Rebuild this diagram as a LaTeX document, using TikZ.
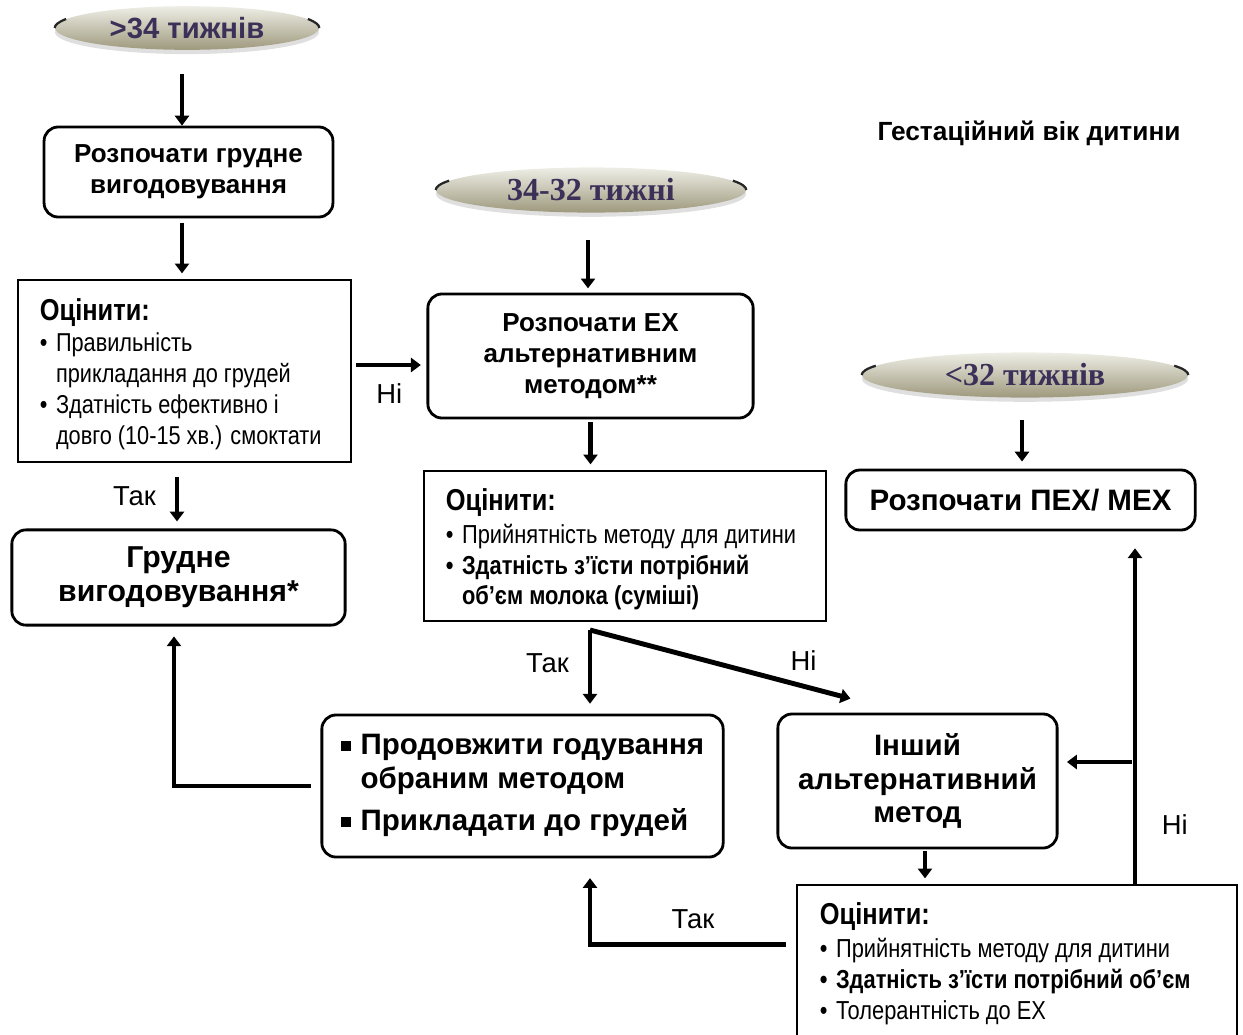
\documentclass[tikz,border=0pt]{standalone}
\usepackage{fontspec}
\setmainfont{Liberation Sans}
\newfontfamily\narrowfont[FakeStretch=0.84]{Liberation Sans}
\newfontfamily\agefont{Liberation Serif}
\usetikzlibrary{shapes.geometric, arrows.meta, positioning, calc, shadows}

\definecolor{agetop}{RGB}{238,238,230}
\definecolor{agemid}{RGB}{196,193,172}
\definecolor{agebot}{RGB}{158,153,125}
\definecolor{agetext}{RGB}{58,48,88}

\begin{document}
\begin{tikzpicture}[x=0.025cm, y=-0.025cm,
    age/.style={ellipse, shading=axis, top color=agetop, middle color=agemid, bottom color=agebot, text=agetext,
        minimum height=1.1cm, drop shadow={opacity=0.25, shadow xshift=0pt, shadow yshift=-3pt}},
    agetip/.style={draw=black!85, line width=1.6pt},
    rbox/.style={draw, rounded corners=10pt, line width=2pt, align=center},
    ebox/.style={draw, line width=1.4pt, align=left, anchor=north west, inner sep=0pt},
    head/.style={font=\fontsize{18.5}{22}\selectfont\bfseries},
    big/.style={font=\fontsize{21}{24}\selectfont\bfseries},
    lbl/.style={font=\fontsize{19.5}{20}\selectfont},
    arr/.style={-{Triangle[width=10pt,length=7pt]}, line width=3.5pt}]

    \clip (0,0) rectangle (1243,1034);

    % Age groups
    \node[age, minimum width=6.6cm, minimum height=1cm, font=\fontsize{20.8}{22}\selectfont\bfseries] (ageA) at (187,28) {>34 тижнів};
    \node[age, minimum width=7.75cm, font=\agefont\fontsize{22.8}{24}\selectfont\bfseries] (ageB) at (591,190) {34-32 тижні};
    \node[age, minimum width=8.15cm, font=\agefont\fontsize{22.8}{24}\selectfont\bfseries] (ageC) at (1025,375) {<32 тижнів};
    \foreach \agenode in {ageA, ageB, ageC} {
        \draw[agetip] let \p1 = ($(\agenode.east)-(\agenode.center)$), \p2 = ($(\agenode.north)-(\agenode.center)$) in
            (\agenode.west) arc[start angle=180, delta angle=-24, x radius=\x1, y radius=\y2]
            (\agenode.east) arc[start angle=0, delta angle=24, x radius=\x1, y radius=\y2];
    }
    \node[font=\fontsize{18.7}{20}\selectfont\bfseries] (title) at (1029,133) {Гестаційний вік дитини};

    % Left column
    \node[rbox, head, minimum width=7.22cm, minimum height=2.25cm] (start) at (188.5,172) {Розпочати грудне\\вигодовування};
    \draw[arr, shorten <=17pt] (ageA.south -| 182,0) -- (start.north -| 182,0);

    \node[ebox, minimum width=8.33cm, minimum height=4.55cm] (evalA) at (17,279) {};
    \node[anchor=north west, align=left, font=\narrowfont\fontsize{18.4}{22}\selectfont] (evalAtext) at (35,294) {%
        \begin{tabular}{@{}l@{\hspace{6pt}}l@{}}
        \multicolumn{2}{@{}l}{\fontsize{21.5}{22}\selectfont\bfseries Оцінити:}\\
        • & Правильність\\
          & прикладання до грудей\\
        • & Здатність ефективно і\\
          & довго (10-15 хв.) смоктати
        \end{tabular}};
    \draw[arr, shorten <=3pt, shorten >=4pt] (start.south -| 182,0) -- (evalA.north -| 182,0);

    \node[rbox, font=\fontsize{21.5}{24}\selectfont\bfseries, minimum width=8.33cm, minimum height=2.38cm] (breast) at (178.5,577.5) {Грудне\\вигодовування*};
    \draw[arr, shorten <=10pt, shorten >=5pt] (evalA.south -| 177,0) -- (breast.north -| 177,0) node[lbl, midway, left=10pt] {Так};

    % Middle column
    \node[rbox, head, minimum width=8.13cm, minimum height=3.1cm] (alt) at (590.5,356) {Розпочати ЕХ\\альтернативним\\методом**};
    \draw[arr, shorten <=19pt, shorten >=3pt] (ageB.south -| 588,0) -- (alt.north -| 588,0);
    \draw[arr, shorten <=3pt, shorten >=4pt] ([yshift=-6.4pt]evalA.east |- alt.west) -- ([yshift=-6.4pt]alt.west) node[lbl, midway, below=8pt] {Ні};

    \node[ebox, minimum width=10.05cm, minimum height=3.75cm] (evalB) at (423,470) {};
    \node[anchor=north west, align=left, font=\narrowfont\fontsize{18.5}{21.5}\selectfont] (evalBtext) at (441,484) {%
        \begin{tabular}{@{}l@{\hspace{6pt}}l@{}}
        \multicolumn{2}{@{}l}{\fontsize{21.5}{22}\selectfont\bfseries Оцінити:}\\[2pt]
        • & Прийнятність методу для дитини\\
        \bfseries • & \bfseries Здатність з’їсти потрібний\\
          & \bfseries об’єм молока (суміші)
        \end{tabular}};
    \draw[arr, shorten <=2pt, shorten >=4pt] (alt.south) -- (evalB.north -| alt.south);

    \coordinate (split) at (590,630);
    \node[rbox, big, align=left, minimum width=10.03cm, minimum height=3.55cm] (cont) at (522.5,786) {%
        \begin{tabular}{@{}l@{\hspace{7pt}}l@{}}
        \raisebox{3pt}{\rule{7pt}{7pt}} & Продовжити годування\\
          & обраним методом\\[6pt]
        \raisebox{3pt}{\rule{7pt}{7pt}} & Прикладати до грудей
        \end{tabular}};
    \draw[arr, shorten >=7pt] (split) -- (split |- cont.north) node[lbl, pos=0.4, left=10pt] {Так};
    \draw[arr, shorten <=7pt, shorten >=7pt] (cont.west) -| (breast.south -| 174,0);

    % Right column
    \node[rbox, big, minimum width=8.73cm, minimum height=1.5cm] (pex) at (1020.5,500) {Розпочати ПЕХ/ МЕХ};
    \draw[arr, shorten <=16pt, shorten >=5pt] (ageC.south -| 1022,0) -- (pex.north -| 1022,0);

    \node[rbox, big, minimum width=6.98cm, minimum height=3.35cm] (other) at (917.5,781) {Інший\\альтернативний\\метод};
    \draw[arr] (split) -- ($(other.north west)+(74,-14)$) node[lbl, pos=0.82, above=6pt] {Ні};

    \node[ebox, minimum width=11cm, minimum height=4.3cm] (evalC) at (796,884) {};
    \node[anchor=north west, align=left, font=\narrowfont\fontsize{18.5}{22}\selectfont] (evalCtext) at (815,898) {%
        \begin{tabular}{@{}l@{\hspace{6pt}}l@{}}
        \multicolumn{2}{@{}l}{\fontsize{21.5}{22}\selectfont\bfseries Оцінити:}\\[1pt]
        • & Прийнятність методу для дитини\\
        \bfseries • & \bfseries Здатність з’їсти потрібний об’єм\\
        • & Толерантність до ЕХ
        \end{tabular}};
    \draw[arr, shorten <=1pt, shorten >=4pt] (other.south -| 925,0) -- (evalC.north -| 925,0);

    \coordinate (join) at (1135,762);
    \draw[arr, shorten >=12pt] (evalC.north -| join) -- (pex.south -| join) node[lbl, pos=0.17, right=14pt] {Ні};
    \draw[arr, shorten <=2pt, shorten >=6pt] (join) -- (join -| other.east);
    \draw[arr, shorten <=7pt, shorten >=14pt] ([yshift=19pt]evalC.west) -| (split |- cont.south) node[lbl, pos=0.25, above=6pt] {Так};

\end{tikzpicture}
\end{document}
